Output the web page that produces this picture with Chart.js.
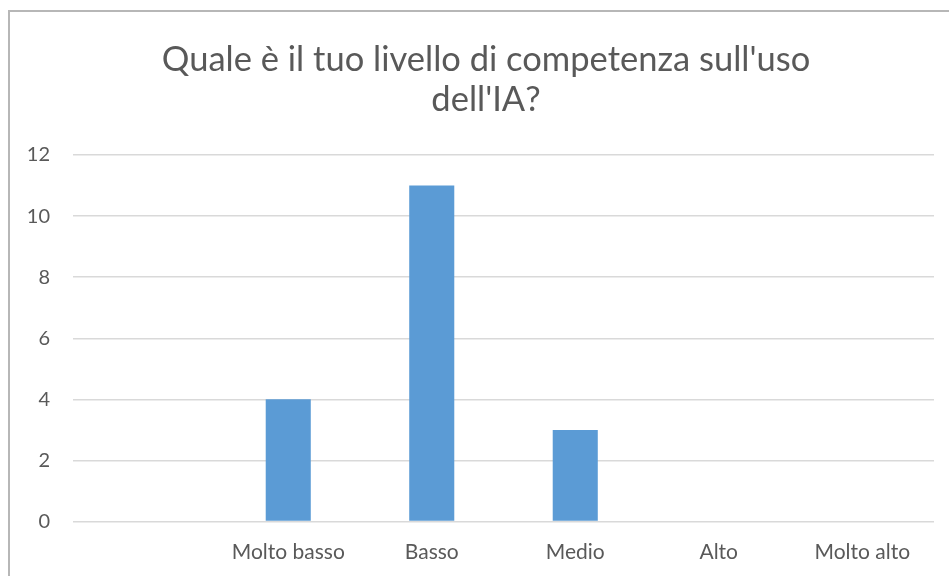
<!DOCTYPE html>
<html>
<head>
<meta charset="utf-8">
<script src="https://cdn.jsdelivr.net/npm/chart.js@4/dist/chart.umd.min.js"></script>
<style>
  html, body { margin: 0; padding: 0; background: #fff; }
  #wrap { position: relative; width: 949px; height: 576px; }
  canvas { display: block; }
</style>
</head>
<body>
<div id="wrap"><canvas id="livelloChart" width="949" height="576"></canvas></div>
<script>
const livelli = ['', 'Molto basso', 'Basso', 'Medio', 'Alto', 'Molto alto'];
const risposte = [0, 4, 11, 3, 0, 0];
const titolo = ["Quale è il tuo livello di competenza sull'uso", "dell'IA?"];
const yMax = 12;
const yStep = 2;

const testo = '#595959';
const fontName = 'Lato, "Open Sans", sans-serif';

// grey frame round the chart, like the spreadsheet export
const cornice = {
    id: 'cornice',
    beforeDraw(chart) {
        const c = chart.ctx;
        c.save();
        c.strokeStyle = '#b7b7b7';
        c.lineWidth = 2;
        c.strokeRect(9, 11, 1000, 1000);
        c.restore();
    },
    afterLayout(chart) {
        // the original title sits a bit right of the canvas centre
        if (chart.titleBlock) chart.titleBlock.left = 38;
    }
};

const ctx = document.getElementById('livelloChart');

new Chart(ctx, {
    type: 'bar',
    data: {
        labels: livelli,
        datasets: [{
            label: 'Risposte',
            data: risposte,
            backgroundColor: '#5b9bd5',
            borderWidth: 0,
            categoryPercentage: 1,
            barPercentage: 0.314
        }]
    },
    options: {
        responsive: false,
        animation: false,
        devicePixelRatio: 1,
        layout: {
            padding: { left: 0, right: 15, top: 0, bottom: 0 }
        },
        plugins: {
            legend: { display: false },
            tooltip: { enabled: false },
            title: {
                display: true,
                text: titolo,
                color: testo,
                font: { family: fontName, size: 34.5, weight: 'normal', lineHeight: 1.16 },
                padding: { top: 40, bottom: 35 }
            }
        },
        scales: {
            x: {
                grid: { display: false, drawTicks: false },
                border: { display: false },
                ticks: {
                    color: testo,
                    font: { family: fontName, size: 21 },
                    padding: 18,
                    maxRotation: 0
                },
                afterFit(scale) { scale.height = 54.5; }
            },
            y: {
                min: 0,
                max: yMax,
                grid: { color: '#d9d9d9', lineWidth: 1.5, drawTicks: false },
                border: { display: false },
                ticks: {
                    stepSize: yStep,
                    color: testo,
                    font: { family: fontName, size: 20 },
                    padding: 23
                },
                afterFit(scale) { scale.width = 73; }
            }
        }
    },
    plugins: [cornice]
});
</script>
</body>
</html>
